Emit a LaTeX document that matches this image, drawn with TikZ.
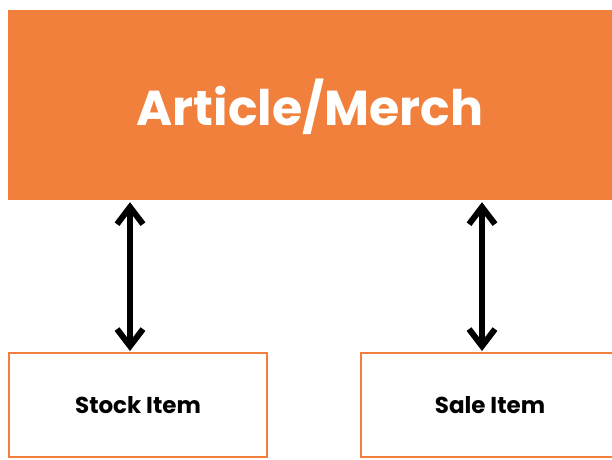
\documentclass[tikz,border=0pt]{standalone}
\usepackage{fontspec}
\setmainfont{Poppins}
\usetikzlibrary{arrows.meta}
\definecolor{orng}{RGB}{240,128,60}
\tikzset{
  topbox/.style={fill=orng,draw=none,minimum width=604pt,minimum height=190pt,inner sep=0pt,text=white,text height=40pt,text depth=0pt,font=\fontsize{49}{58}\selectfont\bfseries},
  itembox/.style={draw=orng,line width=2pt,fill=white,minimum width=258pt,minimum height=104pt,inner sep=0pt,text height=16pt,text depth=0pt,font=\fontsize{23}{27}\selectfont\bfseries},
  dblarrow/.style={line width=6pt,{Straight Barb[length=17pt,width=26pt]}-{Straight Barb[length=17pt,width=26pt]}}
}
\begin{document}
\begin{tikzpicture}[x=1pt,y=-1pt]
\useasboundingbox (0,0) rectangle (612,459);
\node[topbox] (art) at (310,105) {Article/Merch};
\node[itembox] (stock) at (138,405) {Stock Item};
\node[itembox] (sale) at (490,405) {Sale Item};
\coordinate (c1) at (130,0);
\coordinate (c2) at (482,0);
\draw[dblarrow] ([yshift=-2pt]art.south -| c1) -- ([yshift=1pt]stock.north -| c1);
\draw[dblarrow] ([yshift=-2pt]art.south -| c2) -- ([yshift=1pt]sale.north -| c2);
\end{tikzpicture}
\end{document}
